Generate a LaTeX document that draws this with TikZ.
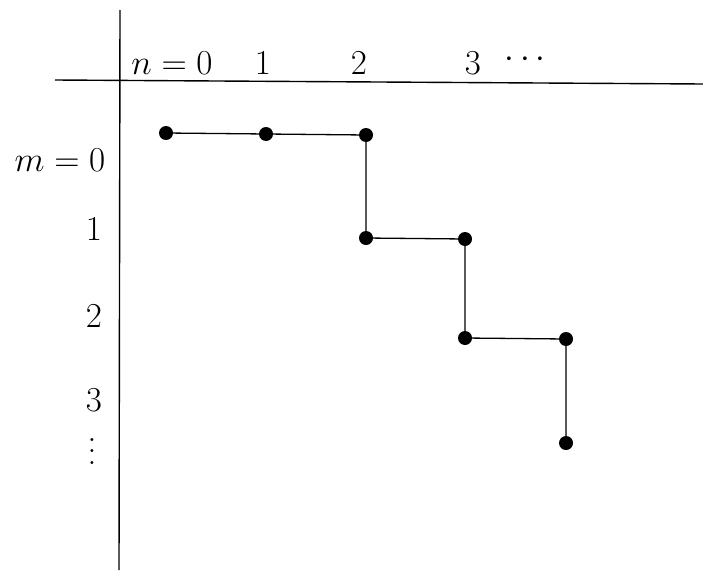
\RequirePackage{fix-cm}
\documentclass[tikz,border=0pt]{standalone}
\begin{document}
\begin{tikzpicture}[x=1pt,y=-1pt,
  dot/.style={circle,fill=black,inner sep=0pt,minimum width=13pt,minimum height=14pt},
  lbl/.style={font=\fontsize{35}{42}\selectfont,inner sep=0pt},
  axis/.style={line width=1.4pt},
  path/.style={line width=1.3pt}]
\useasboundingbox (0,0) rectangle (703,570);
% axes
\coordinate (vtop) at (120,10);
\coordinate (vbot) at (119,570);
\coordinate (hl) at (55,80);
\coordinate (hr) at (703,84);
\draw[axis] (vtop) -- (vbot);
\draw[axis] (hl) -- (hr);
% column labels
\node[lbl] (n0) at (172,63) {$n=0$};
\node[lbl] (n1) at (263,63) {$1$};
\node[lbl] (n2) at (359,63) {$2$};
\node[lbl] (n3) at (473,63) {$3$};
\node[lbl] (nd) at (525,60) {$\cdots$};
% row labels
\node[lbl] (m0) at (60,160) {$m=0$};
\node[lbl] (m1) at (94,229) {$1$};
\node[lbl] (m2) at (94,316) {$2$};
\node[lbl] (m3) at (94,400) {$3$};
\node[inner sep=0pt,scale=2.8,transform shape] (md) at (92,443) {$\vdots$};
% dots
\node[dot] (a) at (166,133) {};
\node[dot] (b) at (266,134) {};
\node[dot] (c) at (366,135) {};
\node[dot] (d) at (366,238) {};
\node[dot] (e) at (465,239) {};
\node[dot] (f) at (465,338) {};
\node[dot] (g) at (566,339) {};
\node[dot] (h) at (566,443) {};
\draw[path] (a.center) -- (b.center) -- (c.center) -- (d.center) -- (e.center) -- (f.center) -- (g.center) -- (h.center);
\end{tikzpicture}
\end{document}
